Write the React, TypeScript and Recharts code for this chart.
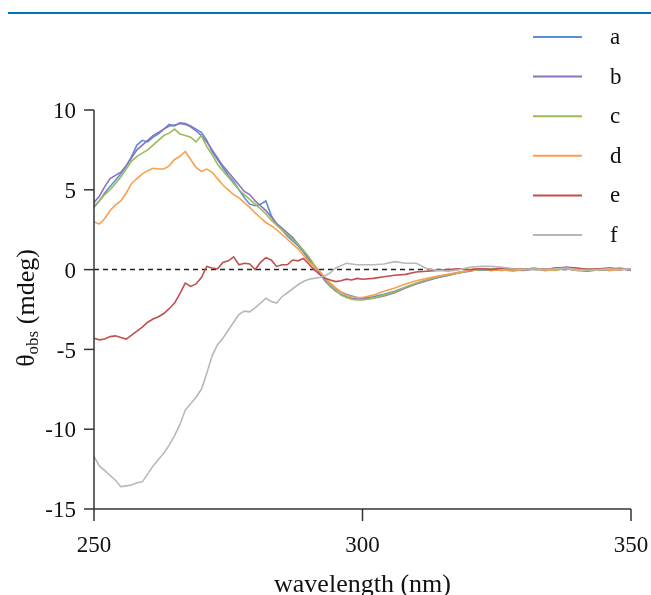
import React from "react";
import { LineChart, Line, XAxis, YAxis, ReferenceLine } from "recharts";

const wavelengths: number[] = [
  250, 251, 252, 253, 254, 255, 256, 257, 258, 259,
  260, 261, 262, 263, 264, 265, 266, 267, 268, 269,
  270, 271, 272, 273, 274, 275, 276, 277, 278, 279,
  280, 281, 282, 283, 284, 285, 286, 287, 288, 289,
  290, 291, 292, 293, 294, 295, 296, 297, 298, 299,
  300, 302, 304, 306, 308, 310, 312, 314, 316, 318,
  320, 322, 324, 326, 328, 330, 332, 334, 336, 338,
  340, 342, 344, 346, 348, 350,
];

const seriesA: number[] = [
  3.9, 4.3, 4.8, 5.2, 5.6, 6.0, 6.5, 7.1, 7.8, 8.1,
  8.0, 8.3, 8.5, 8.8, 9.1, 9.0, 9.2, 9.15, 9.0, 8.8,
  8.6, 8.1, 7.4, 6.9, 6.4, 5.9, 5.5, 5.0, 4.5, 4.1,
  4.0, 4.1, 4.3, 3.4, 2.8, 2.5, 2.1, 1.8, 1.5, 1.1,
  0.6, 0.2, -0.2, -0.6, -0.9, -1.2, -1.4, -1.55, -1.65, -1.75,
  -1.78, -1.7, -1.55, -1.35, -1.1, -0.85, -0.65, -0.5, -0.35, -0.2,
  -0.05, 0.0, -0.05, 0.05, 0.0, -0.05, 0.05, 0.0, 0.1, 0.05,
  -0.05, -0.1, 0.0, -0.05, 0.05, 0.0,
];

const seriesB: number[] = [
  4.2, 4.6, 5.2, 5.7, 5.9, 6.1, 6.5, 7.0, 7.5, 7.8,
  8.1, 8.4, 8.6, 8.8, 9.0, 9.05, 9.15, 9.1, 8.95, 8.7,
  8.4, 8.0, 7.5, 7.0, 6.5, 6.1, 5.7, 5.3, 4.9, 4.7,
  4.3, 4.0, 3.7, 3.3, 2.9, 2.6, 2.3, 2.0, 1.6, 1.2,
  0.7, 0.25, -0.2, -0.7, -1.05, -1.35, -1.55, -1.7, -1.8, -1.85,
  -1.85, -1.8, -1.65, -1.45, -1.15, -0.9, -0.7, -0.5, -0.35, -0.2,
  -0.1, 0.05, 0.0, -0.05, 0.05, 0.0, 0.1, -0.05, 0.0, 0.15,
  0.0, -0.05, 0.05, 0.0, 0.1, -0.05,
];

const seriesC: number[] = [
  4.0, 4.3, 4.7, 5.0, 5.4, 5.8, 6.3, 6.8, 7.1, 7.3,
  7.5, 7.8, 8.1, 8.4, 8.55, 8.8, 8.5, 8.4, 8.3, 8.0,
  8.4, 7.7, 7.2, 6.6, 6.2, 5.8, 5.4, 5.0, 4.7, 4.4,
  4.1, 3.8, 3.5, 3.1, 2.8, 2.5, 2.2, 1.9, 1.6, 1.2,
  0.8, 0.3, -0.1, -0.6, -1.0, -1.3, -1.6, -1.75, -1.85, -1.9,
  -1.9, -1.8, -1.6, -1.4, -1.1, -0.85, -0.65, -0.45, -0.3, -0.2,
  -0.05, 0.0, 0.05, 0.0, -0.05, 0.05, 0.0, 0.05, -0.05, 0.1,
  0.0, 0.05, -0.05, 0.1, 0.05, 0.0,
];

const seriesD: number[] = [
  3.0, 2.85, 3.2, 3.7, 4.05, 4.3, 4.8, 5.4, 5.7, 6.0,
  6.2, 6.35, 6.3, 6.3, 6.5, 6.9, 7.1, 7.4, 6.9, 6.4,
  6.15, 6.3, 6.1, 5.7, 5.3, 5.0, 4.7, 4.5, 4.2, 3.9,
  3.55, 3.25, 2.95, 2.75, 2.5, 2.2, 1.9, 1.6, 1.3, 0.9,
  0.5, 0.2, -0.1, -0.5, -0.85, -1.15, -1.4, -1.6, -1.7, -1.75,
  -1.75, -1.6, -1.35, -1.15, -0.9, -0.7, -0.55, -0.4, -0.3, -0.15,
  -0.05, 0.05, -0.05, 0.0, -0.1, 0.0, 0.05, -0.05, 0.0, 0.05,
  -0.05, 0.0, 0.05, -0.05, 0.0, 0.05,
];

const seriesE: number[] = [
  -4.3, -4.4, -4.35, -4.2, -4.15, -4.25, -4.35, -4.1, -3.85, -3.6,
  -3.3, -3.1, -2.95, -2.75, -2.45, -2.1, -1.5, -0.85, -1.05, -0.9,
  -0.5, 0.2, 0.1, 0.05, 0.45, 0.55, 0.8, 0.3, 0.4, 0.35,
  0.0, 0.45, 0.75, 0.6, 0.2, 0.3, 0.3, 0.6, 0.55, 0.7,
  0.35, 0.0, -0.3, -0.55, -0.65, -0.75, -0.7, -0.6, -0.65, -0.55,
  -0.6, -0.55, -0.45, -0.35, -0.3, -0.15, -0.1, -0.05, 0.0, 0.05,
  0.0, 0.05, 0.0, 0.1, 0.05, 0.0, 0.05, 0.0, 0.1, 0.15,
  0.1, 0.0, 0.05, 0.1, 0.0, 0.05,
];

const seriesF: number[] = [
  -11.7, -12.3, -12.6, -12.9, -13.2, -13.6, -13.55, -13.5, -13.35, -13.3,
  -12.8, -12.3, -11.9, -11.5, -11.0, -10.4, -9.7, -8.8, -8.4, -8.0,
  -7.5, -6.5, -5.4, -4.7, -4.3, -3.8, -3.3, -2.8, -2.6, -2.65,
  -2.4, -2.1, -1.8, -2.0, -2.1, -1.7, -1.45, -1.2, -0.95, -0.75,
  -0.6, -0.55, -0.5, -0.4, -0.2, 0.1, 0.25, 0.4, 0.35, 0.3,
  0.3, 0.3, 0.35, 0.5, 0.4, 0.4, 0.05, -0.05, -0.1, 0.0,
  0.15, 0.2, 0.2, 0.15, 0.05, 0.0, 0.05, 0.0, 0.05, 0.1,
  0.0, -0.05, 0.0, 0.05, 0.0, 0.05,
];

const seriesNames: string[] = ["a", "b", "c", "d", "e", "f"];
const seriesColors: string[] = ["#5a8fd6", "#8a72bf", "#9bbb59", "#f9a04e", "#c0504d", "#b8b8b8"];
const xTicks: number[] = [250, 300, 350];
const yTicks: number[] = [-15, -10, -5, 0, 5, 10];

const allSeries = [seriesA, seriesB, seriesC, seriesD, seriesE, seriesF];

const data = wavelengths.map((w, i) => {
  const row: Record<string, number> = { w };
  seriesNames.forEach((n, k) => {
    row[n] = allSeries[k][i];
  });
  return row;
});

const FONT = "'Liberation Serif', 'Times New Roman', serif";

const LegendBox = () => (
  <svg
    width={120}
    height={240}
    style={{ position: "absolute", top: 9, left: 515, display: "block" }}
  >
    {seriesNames.map((n, i) => {
      const y = 20 + i * 39.6;
      return (
        <g key={n}>
          <line x1={10} x2={59} y1={y} y2={y} stroke={seriesColors[i]} strokeWidth={2} />
          <text x={87} y={y + 7} fontSize={23} fontFamily={FONT} fill="#111">
            {n}
          </text>
        </g>
      );
    })}
  </svg>
);

const YLabel = () => (
  <text
    x={17}
    y={300}
    transform="rotate(-90, 17, 300)"
    textAnchor="middle"
    dominantBaseline="central"
    fontSize={26}
    fontFamily={FONT}
    fill="#111"
  >
    θ<tspan fontSize={17} dy={7}>obs</tspan>
    <tspan dy={-7}> (mdeg)</tspan>
  </text>
);

const XLabel = () => (
  <text x={354.5} y={584} textAnchor="middle" fontSize={26} fontFamily={FONT} fill="#111">
    wavelength (nm)
  </text>
);

export default function App() {
  return (
    <div
      style={{
        position: "fixed",
        left: 8,
        top: 8,
        width: 643,
        height: 587,
        overflow: "visible",
        background: "#fff",
      }}
    >
      <style>
        {"html { overflow: hidden; } .recharts-wrapper, .recharts-surface { overflow: visible !important; }"}
      </style>
      <div
        style={{
          position: "absolute",
          top: 4,
          left: 0,
          width: 643,
          height: 2,
          background: "#0070c0",
        }}
      />
      <LineChart
        width={643}
        height={587}
        data={data}
        margin={{ top: 102, right: 20, left: 0, bottom: 26 }}
        style={{ fontFamily: FONT, overflow: "visible" }}
      >
        <XAxis
          dataKey="w"
          type="number"
          domain={[250, 350]}
          ticks={xTicks}
          tickSize={12}
          tickMargin={15}
          height={60}
          stroke="#333"
          strokeWidth={1.5}
          tick={{ fontSize: 23, fill: "#111", fontFamily: FONT }}
          label={{ content: () => <XLabel /> }}
        />
        <YAxis
          type="number"
          domain={[-15, 10]}
          ticks={yTicks}
          width={86}
          tickSize={10}
          tickMargin={8}
          stroke="#333"
          strokeWidth={1.5}
          tick={{ fontSize: 23, fill: "#111", fontFamily: FONT }}
          label={{ content: () => <YLabel /> }}
        />
        <ReferenceLine y={0} stroke="#222" strokeDasharray="5 4" strokeWidth={1.5} />
        {seriesNames.map((n, k) => (
          <Line
            key={n}
            dataKey={n}
            name={n}
            type="linear"
            stroke={seriesColors[k]}
            strokeWidth={1.6}
            dot={false}
            isAnimationActive={false}
          />
        ))}
      </LineChart>
      <LegendBox />
    </div>
  );
}
